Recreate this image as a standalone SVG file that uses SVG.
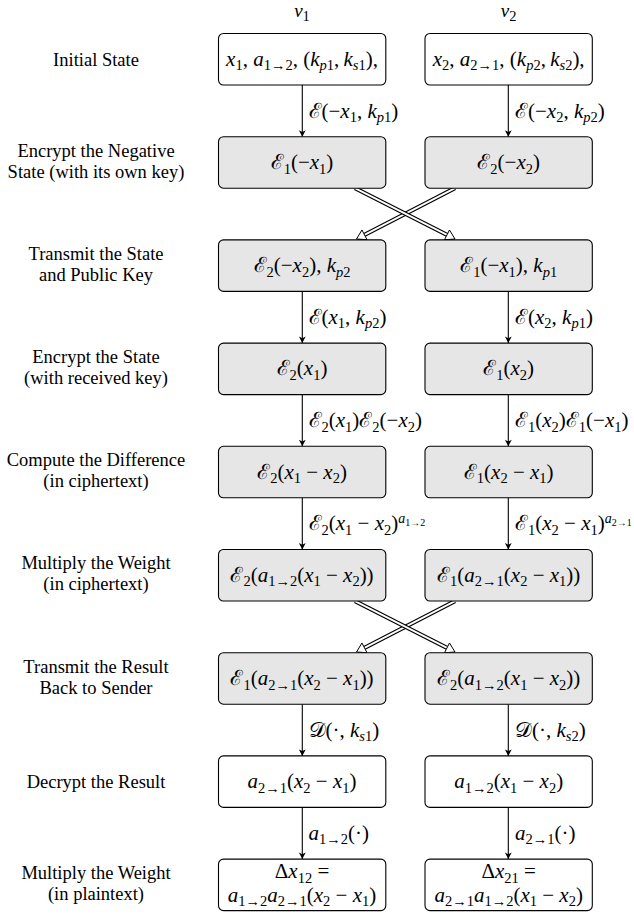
<svg xmlns="http://www.w3.org/2000/svg" width="634" height="914" viewBox="0 0 634 914">
<style>
text{fill:#000;font-family:Liberation Serif,Times New Roman,serif}
.lbl{font-size:18.5px;text-anchor:middle}
.m{font-size:21px;text-anchor:middle}
.ml{font-size:21px;text-anchor:start}
.hdr{font-size:19px;text-anchor:middle}
.i{font-style:italic}
.sb{font-size:14.5px}
.sp{font-size:14px}
.ss{font-size:10px}
.box{stroke:#000;stroke-width:1.1;fill:#fff}
.g{fill:#e6e6e6}
.ln{stroke:#000;stroke-width:1.1;fill:none}
.dbo{stroke:#000;stroke-width:4.2;fill:none}
.dbi{stroke:#fff;stroke-width:1.9;fill:none}
.hd{fill:#fff;stroke:#000;stroke-width:1}
</style>
<defs>
<marker id="ah" markerUnits="userSpaceOnUse" markerWidth="12" markerHeight="12" viewBox="-8 -6 10 12" refX="0" refY="0" orient="auto">
<path d="M0,0 L-6.5,-3.4 L-4.8,0 L-6.5,3.4 Z" fill="#000"/>
</marker>
</defs>

<g id="headers">
<text class="hdr" x="302" y="17"><tspan class="i">v</tspan><tspan class="sb" dy="3.5">1</tspan></text>
<text class="hdr" x="508.7" y="17"><tspan class="i">v</tspan><tspan class="sb" dy="3.5">2</tspan></text>
</g>

<g id="steps">
<text class="lbl" x="96" y="66">Initial State</text>
<text class="lbl" x="96" y="156.5">Encrypt the Negative</text>
<text class="lbl" x="96" y="177.5">State (with its own key)</text>
<text class="lbl" x="96" y="259.7">Transmit the State</text>
<text class="lbl" x="96" y="280.7">and Public Key</text>
<text class="lbl" x="96" y="362.9">Encrypt the State</text>
<text class="lbl" x="96" y="383.9">(with received key)</text>
<text class="lbl" x="96" y="466">Compute the Difference</text>
<text class="lbl" x="96" y="487">(in ciphertext)</text>
<text class="lbl" x="96" y="569.3">Multiply the Weight</text>
<text class="lbl" x="96" y="590.3">(in ciphertext)</text>
<text class="lbl" x="96" y="672.5">Transmit the Result</text>
<text class="lbl" x="96" y="693.5">Back to Sender</text>
<text class="lbl" x="96" y="787.5">Decrypt the Result</text>
<text class="lbl" x="96" y="878.9">Multiply the Weight</text>
<text class="lbl" x="96" y="899.9">(in plaintext)</text>
</g>

<g id="connectors">
<line class="ln" x1="302.3" y1="85" x2="302.3" y2="136.7" marker-end="url(#ah)"/>
<line class="ln" x1="508.3" y1="85" x2="508.3" y2="136.7" marker-end="url(#ah)"/>
<line class="ln" x1="302.3" y1="291.4" x2="302.3" y2="343.1" marker-end="url(#ah)"/>
<line class="ln" x1="508.3" y1="291.4" x2="508.3" y2="343.1" marker-end="url(#ah)"/>
<line class="ln" x1="302.3" y1="394.6" x2="302.3" y2="446.3" marker-end="url(#ah)"/>
<line class="ln" x1="508.3" y1="394.6" x2="508.3" y2="446.3" marker-end="url(#ah)"/>
<line class="ln" x1="302.3" y1="497.8" x2="302.3" y2="549.5" marker-end="url(#ah)"/>
<line class="ln" x1="508.3" y1="497.8" x2="508.3" y2="549.5" marker-end="url(#ah)"/>
<line class="ln" x1="302.3" y1="704.2" x2="302.3" y2="755.9" marker-end="url(#ah)"/>
<line class="ln" x1="508.3" y1="704.2" x2="508.3" y2="755.9" marker-end="url(#ah)"/>
<line class="ln" x1="302.3" y1="807.4" x2="302.3" y2="859.1" marker-end="url(#ah)"/>
<line class="ln" x1="508.3" y1="807.4" x2="508.3" y2="859.1" marker-end="url(#ah)"/>
<g id="cross1">
<line class="dbo" x1="455" y1="188.2" x2="364.49" y2="234.86"/>
<line class="dbi" x1="455" y1="188.2" x2="363" y2="235.6"/>
<polygon class="hd" points="356.5,239 367.02,239.74 361.96,229.98"/>
<line class="dbo" x1="355" y1="188.2" x2="446.98" y2="234.91"/>
<line class="dbi" x1="355" y1="188.2" x2="448.5" y2="235.7"/>
<polygon class="hd" points="455,239 444.48,239.81 449.48,230.01"/>
</g>
<g id="cross2" transform="translate(0,413)">
<line class="dbo" x1="455" y1="188.2" x2="364.49" y2="234.86"/>
<line class="dbi" x1="455" y1="188.2" x2="363" y2="235.6"/>
<polygon class="hd" points="356.5,239 367.02,239.74 361.96,229.98"/>
<line class="dbo" x1="355" y1="188.2" x2="446.98" y2="234.91"/>
<line class="dbi" x1="355" y1="188.2" x2="448.5" y2="235.7"/>
<polygon class="hd" points="455,239 444.48,239.81 449.48,230.01"/>
</g>
<g id="edge-labels">
<text class="ml" x="308.5" y="117.5"><tspan>ℰ(−</tspan><tspan class="i">x</tspan><tspan class="sb" dy="4.5">1</tspan><tspan dy="-4.5">, </tspan><tspan class="i">k</tspan><tspan class="sb i" dy="4.5">p</tspan><tspan class="sb">1</tspan><tspan dy="-4.5">)</tspan></text>
<text class="ml" x="515" y="117.5"><tspan>ℰ(−</tspan><tspan class="i">x</tspan><tspan class="sb" dy="4.5">2</tspan><tspan dy="-4.5">, </tspan><tspan class="i">k</tspan><tspan class="sb i" dy="4.5">p</tspan><tspan class="sb">2</tspan><tspan dy="-4.5">)</tspan></text>
<text class="ml" x="308.5" y="323.5"><tspan>ℰ(</tspan><tspan class="i">x</tspan><tspan class="sb" dy="4.5">1</tspan><tspan dy="-4.5">, </tspan><tspan class="i">k</tspan><tspan class="sb i" dy="4.5">p</tspan><tspan class="sb">2</tspan><tspan dy="-4.5">)</tspan></text>
<text class="ml" x="515" y="323.5"><tspan>ℰ(</tspan><tspan class="i">x</tspan><tspan class="sb" dy="4.5">2</tspan><tspan dy="-4.5">, </tspan><tspan class="i">k</tspan><tspan class="sb i" dy="4.5">p</tspan><tspan class="sb">1</tspan><tspan dy="-4.5">)</tspan></text>
<text class="ml" x="308.5" y="427"><tspan>ℰ</tspan><tspan class="sb" dy="4.5">2</tspan><tspan dy="-4.5">(</tspan><tspan class="i">x</tspan><tspan class="sb" dy="4.5">1</tspan><tspan dy="-4.5">)ℰ</tspan><tspan class="sb" dy="4.5">2</tspan><tspan dy="-4.5">(−</tspan><tspan class="i">x</tspan><tspan class="sb" dy="4.5">2</tspan><tspan dy="-4.5">)</tspan></text>
<text class="ml" x="515" y="427"><tspan>ℰ</tspan><tspan class="sb" dy="4.5">1</tspan><tspan dy="-4.5">(</tspan><tspan class="i">x</tspan><tspan class="sb" dy="4.5">2</tspan><tspan dy="-4.5">)ℰ</tspan><tspan class="sb" dy="4.5">1</tspan><tspan dy="-4.5">(−</tspan><tspan class="i">x</tspan><tspan class="sb" dy="4.5">1</tspan><tspan dy="-4.5">)</tspan></text>
<text class="ml" x="308.5" y="530"><tspan>ℰ</tspan><tspan class="sb" dy="4.5">2</tspan><tspan dy="-4.5">(</tspan><tspan class="i">x</tspan><tspan class="sb" dy="4.5">1</tspan><tspan dy="-4.5"> − </tspan><tspan class="i">x</tspan><tspan class="sb" dy="4.5">2</tspan><tspan dy="-4.5">)</tspan><tspan class="sp i" dy="-7">a</tspan><tspan class="ss" dy="2.5">1→2</tspan></text>
<text class="ml" x="515" y="530"><tspan>ℰ</tspan><tspan class="sb" dy="4.5">1</tspan><tspan dy="-4.5">(</tspan><tspan class="i">x</tspan><tspan class="sb" dy="4.5">2</tspan><tspan dy="-4.5"> − </tspan><tspan class="i">x</tspan><tspan class="sb" dy="4.5">1</tspan><tspan dy="-4.5">)</tspan><tspan class="sp i" dy="-7">a</tspan><tspan class="ss" dy="2.5">2→1</tspan></text>
<text class="ml" x="308.5" y="736.5"><tspan>𝒟(·, </tspan><tspan class="i">k</tspan><tspan class="sb i" dy="4.5">s</tspan><tspan class="sb">1</tspan><tspan dy="-4.5">)</tspan></text>
<text class="ml" x="515" y="736.5"><tspan>𝒟(·, </tspan><tspan class="i">k</tspan><tspan class="sb i" dy="4.5">s</tspan><tspan class="sb">2</tspan><tspan dy="-4.5">)</tspan></text>
<text class="ml" x="308.5" y="839.5"><tspan class="i">a</tspan><tspan class="sb" dy="4.5">1→2</tspan><tspan dy="-4.5">(·)</tspan></text>
<text class="ml" x="515" y="839.5"><tspan class="i">a</tspan><tspan class="sb" dy="4.5">2→1</tspan><tspan dy="-4.5">(·)</tspan></text>
</g>
</g>

<g id="n1L"><rect class="box" x="218.5" y="33.5" width="167.3" height="51.5" rx="5"/>
<text class="m" x="302" y="65.5"><tspan class="i">x</tspan><tspan class="sb" dy="4.5">1</tspan><tspan dy="-4.5">, </tspan><tspan class="i">a</tspan><tspan class="sb" dy="4.5">1→2</tspan><tspan dy="-4.5">, (</tspan><tspan class="i">k</tspan><tspan class="sb i" dy="4.5">p</tspan><tspan class="sb">1</tspan><tspan dy="-4.5">,&#8201;</tspan><tspan class="i">k</tspan><tspan class="sb i" dy="4.5">s</tspan><tspan class="sb">1</tspan><tspan dy="-4.5">),</tspan></text></g>
<g id="n1R"><rect class="box" x="425" y="33.5" width="167.3" height="51.5" rx="5"/>
<text class="m" x="508.7" y="65.5"><tspan class="i">x</tspan><tspan class="sb" dy="4.5">2</tspan><tspan dy="-4.5">, </tspan><tspan class="i">a</tspan><tspan class="sb" dy="4.5">2→1</tspan><tspan dy="-4.5">, (</tspan><tspan class="i">k</tspan><tspan class="sb i" dy="4.5">p</tspan><tspan class="sb">2</tspan><tspan dy="-4.5">,&#8201;</tspan><tspan class="i">k</tspan><tspan class="sb i" dy="4.5">s</tspan><tspan class="sb">2</tspan><tspan dy="-4.5">),</tspan></text></g>

<g id="n2L"><rect class="box g" x="218.5" y="136.7" width="167.3" height="51.5" rx="5"/>
<text class="m" x="302" y="169"><tspan>ℰ</tspan><tspan class="sb" dy="4.5">1</tspan><tspan dy="-4.5">(−</tspan><tspan class="i">x</tspan><tspan class="sb" dy="4.5">1</tspan><tspan dy="-4.5">)</tspan></text></g>
<g id="n2R"><rect class="box g" x="425" y="136.7" width="167.3" height="51.5" rx="5"/>
<text class="m" x="508.7" y="169"><tspan>ℰ</tspan><tspan class="sb" dy="4.5">2</tspan><tspan dy="-4.5">(−</tspan><tspan class="i">x</tspan><tspan class="sb" dy="4.5">2</tspan><tspan dy="-4.5">)</tspan></text></g>

<g id="n3L"><rect class="box g" x="218.5" y="239.9" width="167.3" height="51.5" rx="5"/>
<text class="m" x="302" y="272.2"><tspan>ℰ</tspan><tspan class="sb" dy="4.5">2</tspan><tspan dy="-4.5">(−</tspan><tspan class="i">x</tspan><tspan class="sb" dy="4.5">2</tspan><tspan dy="-4.5">), </tspan><tspan class="i">k</tspan><tspan class="sb i" dy="4.5">p</tspan><tspan class="sb">2</tspan></text></g>
<g id="n3R"><rect class="box g" x="425" y="239.9" width="167.3" height="51.5" rx="5"/>
<text class="m" x="508.7" y="272.2"><tspan>ℰ</tspan><tspan class="sb" dy="4.5">1</tspan><tspan dy="-4.5">(−</tspan><tspan class="i">x</tspan><tspan class="sb" dy="4.5">1</tspan><tspan dy="-4.5">), </tspan><tspan class="i">k</tspan><tspan class="sb i" dy="4.5">p</tspan><tspan class="sb">1</tspan></text></g>

<g id="n4L"><rect class="box g" x="218.5" y="343.1" width="167.3" height="51.5" rx="5"/>
<text class="m" x="302" y="375.4"><tspan>ℰ</tspan><tspan class="sb" dy="4.5">2</tspan><tspan dy="-4.5">(</tspan><tspan class="i">x</tspan><tspan class="sb" dy="4.5">1</tspan><tspan dy="-4.5">)</tspan></text></g>
<g id="n4R"><rect class="box g" x="425" y="343.1" width="167.3" height="51.5" rx="5"/>
<text class="m" x="508.7" y="375.4"><tspan>ℰ</tspan><tspan class="sb" dy="4.5">1</tspan><tspan dy="-4.5">(</tspan><tspan class="i">x</tspan><tspan class="sb" dy="4.5">2</tspan><tspan dy="-4.5">)</tspan></text></g>

<g id="n5L"><rect class="box g" x="218.5" y="446.3" width="167.3" height="51.5" rx="5"/>
<text class="m" x="302" y="478.6"><tspan>ℰ</tspan><tspan class="sb" dy="4.5">2</tspan><tspan dy="-4.5">(</tspan><tspan class="i">x</tspan><tspan class="sb" dy="4.5">1</tspan><tspan dy="-4.5"> − </tspan><tspan class="i">x</tspan><tspan class="sb" dy="4.5">2</tspan><tspan dy="-4.5">)</tspan></text></g>
<g id="n5R"><rect class="box g" x="425" y="446.3" width="167.3" height="51.5" rx="5"/>
<text class="m" x="508.7" y="478.6"><tspan>ℰ</tspan><tspan class="sb" dy="4.5">1</tspan><tspan dy="-4.5">(</tspan><tspan class="i">x</tspan><tspan class="sb" dy="4.5">2</tspan><tspan dy="-4.5"> − </tspan><tspan class="i">x</tspan><tspan class="sb" dy="4.5">1</tspan><tspan dy="-4.5">)</tspan></text></g>

<g id="n6L"><rect class="box g" x="218.5" y="549.5" width="167.3" height="51.5" rx="5"/>
<text class="m" x="302" y="581.8"><tspan>ℰ</tspan><tspan class="sb" dy="4.5">2</tspan><tspan dy="-4.5">(</tspan><tspan class="i">a</tspan><tspan class="sb" dy="4.5">1→2</tspan><tspan dy="-4.5">(</tspan><tspan class="i">x</tspan><tspan class="sb" dy="4.5">1</tspan><tspan dy="-4.5"> − </tspan><tspan class="i">x</tspan><tspan class="sb" dy="4.5">2</tspan><tspan dy="-4.5">))</tspan></text></g>
<g id="n6R"><rect class="box g" x="425" y="549.5" width="167.3" height="51.5" rx="5"/>
<text class="m" x="508.7" y="581.8"><tspan>ℰ</tspan><tspan class="sb" dy="4.5">1</tspan><tspan dy="-4.5">(</tspan><tspan class="i">a</tspan><tspan class="sb" dy="4.5">2→1</tspan><tspan dy="-4.5">(</tspan><tspan class="i">x</tspan><tspan class="sb" dy="4.5">2</tspan><tspan dy="-4.5"> − </tspan><tspan class="i">x</tspan><tspan class="sb" dy="4.5">1</tspan><tspan dy="-4.5">))</tspan></text></g>

<g id="n7L"><rect class="box g" x="218.5" y="652.7" width="167.3" height="51.5" rx="5"/>
<text class="m" x="302" y="685"><tspan>ℰ</tspan><tspan class="sb" dy="4.5">1</tspan><tspan dy="-4.5">(</tspan><tspan class="i">a</tspan><tspan class="sb" dy="4.5">2→1</tspan><tspan dy="-4.5">(</tspan><tspan class="i">x</tspan><tspan class="sb" dy="4.5">2</tspan><tspan dy="-4.5"> − </tspan><tspan class="i">x</tspan><tspan class="sb" dy="4.5">1</tspan><tspan dy="-4.5">))</tspan></text></g>
<g id="n7R"><rect class="box g" x="425" y="652.7" width="167.3" height="51.5" rx="5"/>
<text class="m" x="508.7" y="685"><tspan>ℰ</tspan><tspan class="sb" dy="4.5">2</tspan><tspan dy="-4.5">(</tspan><tspan class="i">a</tspan><tspan class="sb" dy="4.5">1→2</tspan><tspan dy="-4.5">(</tspan><tspan class="i">x</tspan><tspan class="sb" dy="4.5">1</tspan><tspan dy="-4.5"> − </tspan><tspan class="i">x</tspan><tspan class="sb" dy="4.5">2</tspan><tspan dy="-4.5">))</tspan></text></g>

<g id="n8L"><rect class="box" x="218.5" y="755.9" width="167.3" height="51.5" rx="5"/>
<text class="m" x="302" y="788.2"><tspan class="i">a</tspan><tspan class="sb" dy="4.5">2→1</tspan><tspan dy="-4.5">(</tspan><tspan class="i">x</tspan><tspan class="sb" dy="4.5">2</tspan><tspan dy="-4.5"> − </tspan><tspan class="i">x</tspan><tspan class="sb" dy="4.5">1</tspan><tspan dy="-4.5">)</tspan></text></g>
<g id="n8R"><rect class="box" x="425" y="755.9" width="167.3" height="51.5" rx="5"/>
<text class="m" x="508.7" y="788.2"><tspan class="i">a</tspan><tspan class="sb" dy="4.5">1→2</tspan><tspan dy="-4.5">(</tspan><tspan class="i">x</tspan><tspan class="sb" dy="4.5">1</tspan><tspan dy="-4.5"> − </tspan><tspan class="i">x</tspan><tspan class="sb" dy="4.5">2</tspan><tspan dy="-4.5">)</tspan></text></g>

<g id="n9L"><rect class="box" x="218.5" y="859.1" width="167.3" height="51.5" rx="5"/>
<text class="m" x="302" y="878"><tspan>Δ</tspan><tspan class="i">x</tspan><tspan class="sb" dy="4.5">12</tspan><tspan dy="-4.5">  =</tspan></text>
<text class="m" x="302" y="901.5"><tspan class="i">a</tspan><tspan class="sb" dy="4.5">1→2</tspan><tspan class="i" dy="-4.5">a</tspan><tspan class="sb" dy="4.5">2→1</tspan><tspan dy="-4.5">(</tspan><tspan class="i">x</tspan><tspan class="sb" dy="4.5">2</tspan><tspan dy="-4.5"> − </tspan><tspan class="i">x</tspan><tspan class="sb" dy="4.5">1</tspan><tspan dy="-4.5">)</tspan></text></g>
<g id="n9R"><rect class="box" x="425" y="859.1" width="167.3" height="51.5" rx="5"/>
<text class="m" x="508.7" y="878"><tspan>Δ</tspan><tspan class="i">x</tspan><tspan class="sb" dy="4.5">21</tspan><tspan dy="-4.5">  =</tspan></text>
<text class="m" x="508.7" y="901.5"><tspan class="i">a</tspan><tspan class="sb" dy="4.5">2→1</tspan><tspan class="i" dy="-4.5">a</tspan><tspan class="sb" dy="4.5">1→2</tspan><tspan dy="-4.5">(</tspan><tspan class="i">x</tspan><tspan class="sb" dy="4.5">1</tspan><tspan dy="-4.5"> − </tspan><tspan class="i">x</tspan><tspan class="sb" dy="4.5">2</tspan><tspan dy="-4.5">)</tspan></text></g>
</svg>
